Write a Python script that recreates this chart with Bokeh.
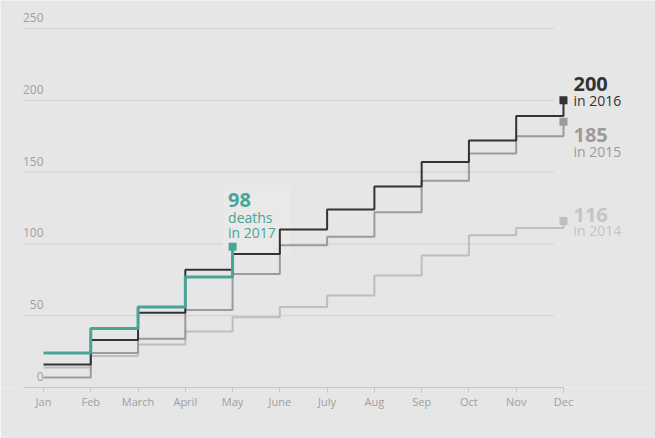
from bokeh.plotting import figure
from bokeh.models import Range1d, FixedTicker
from bokeh.core.properties import value
from bokeh.embed import file_html
from bokeh.resources import INLINE

# ---- data ----
months = ["Jan", "Feb", "March", "April", "May", "June", "July", "Aug", "Sep", "Oct", "Nov", "Dec"]
deaths_2014 = [14, 22, 30, 39, 49, 56, 64, 78, 92, 106, 111, 116]
deaths_2015 = [7, 24, 34, 54, 79, 99, 105, 122, 144, 163, 175, 185]
deaths_2016 = [16, 33, 52, 82, 93, 110, 124, 140, 157, 172, 189, 200]
deaths_2017 = [24, 41, 56, 77, 98]
y_ticks = [0, 50, 100, 150, 200, 250]

BG = "#e6e6e6"
TEAL = "#48a596"
DARK = "#333333"
MID = "#9b9b9b"
LIGHT = "#bebebe"
GRID = "#cfcfcf"
TICK = "#a0a0a0"
FONT = "Open Sans"
SHIFT = -6  # baseline correction for text glyphs

p = figure(width=655, height=438, output_backend="svg", toolbar_location=None,
           x_range=Range1d(-0.9097, 12.947), y_range=Range1d(0, 269.5),
           y_axis_location=None, min_border_left=0, min_border_right=0,
           min_border_top=0, min_border_bottom=51)
p.background_fill_color = BG
p.border_fill_color = BG
p.outline_line_color = None
p.xgrid.visible = False
p.ygrid.visible = False

# x axis
ax = p.xaxis[0]
ax.ticker = FixedTicker(ticks=list(range(len(months))))
ax.major_label_overrides = {i: m for i, m in enumerate(months)}
ax.minor_tick_line_color = None
ax.major_tick_in = 0
ax.major_tick_out = 5
ax.major_tick_line_color = "#c8c8c8"
ax.axis_line_color = "#c8c8c8"
ax.bounds = (-0.42, len(months) - 1)
ax.major_label_text_font = FONT
ax.major_label_text_font_size = "11px"
ax.major_label_text_color = TICK
ax.major_label_standoff = 1

# horizontal grid lines (not the zero line, which is the axis)
g = [t for t in y_ticks if t > 0]
p.segment(x0=[-0.42] * len(g), x1=[10.79] * len(g), y0=g, y1=g,
          line_color=GRID, line_width=1, level="underlay")

# y tick labels, inside the plot above each line
p.text(x=[0] * len(y_ticks), y=y_ticks, text=[str(t) for t in y_ticks],
       text_align="right", text_baseline="alphabetic", y_offset=-5 + SHIFT,
       text_font=value(FONT), text_font_size="12px", text_color=TICK)

# faint annotation box behind 2017 label
p.quad(left=[3.80], right=[5.22], bottom=[92], top=[141],
       fill_color="#e9e9e9", line_color=None, level="underlay")

# step lines
xs = list(range(len(months)))
for data, col, lw in [(deaths_2014, LIGHT, 2), (deaths_2015, MID, 2),
                      (deaths_2016, DARK, 2), (deaths_2017, TEAL, 3)]:
    x = xs[:len(data)]
    p.step(x=x, y=data, mode="after", line_color=col, line_width=lw)
    p.scatter(x=[x[-1]], y=[data[-1]], marker="square", size=8,
              fill_color=col, line_color=None)

# end labels
def lab(x, y, txt, col, size, bold, xo, yo):
    p.text(x=[x], y=[y], text=[txt], x_offset=xo, y_offset=yo + SHIFT,
           text_align="left", text_baseline="alphabetic",
           text_font=value(FONT), text_font_size=size,
           text_font_style="bold" if bold else "normal", text_color=col)

last = len(months) - 1
lab(last, deaths_2016[-1], str(deaths_2016[-1]), DARK, "20px", True, 10, -10)
lab(last, deaths_2016[-1], "in 2016", DARK, "14px", False, 10, 6)
lab(last, deaths_2015[-1], str(deaths_2015[-1]), MID, "20px", True, 10, 19.5)
lab(last, deaths_2015[-1], "in 2015", MID, "14px", False, 10, 35.5)
lab(last, deaths_2014[-1], str(deaths_2014[-1]), "#c4c4c4", "20px", True, 10, 0)
lab(last, deaths_2014[-1], "in 2014", "#c4c4c4", "14px", False, 10, 16)

x17 = len(deaths_2017) - 1
lab(x17, deaths_2017[-1], str(deaths_2017[-1]), TEAL, "20px", True, -4.5, -40.5)
lab(x17, deaths_2017[-1], "deaths", TEAL, "14px", False, -4.5, -23.3)
lab(x17, deaths_2017[-1], "in 2017", TEAL, "14px", False, -4.5, -8.3)

html = file_html(p, INLINE)
html = html.replace("<body>", '<body style="background:%s">' % BG, 1)
open("out.html", "w").write(html)
